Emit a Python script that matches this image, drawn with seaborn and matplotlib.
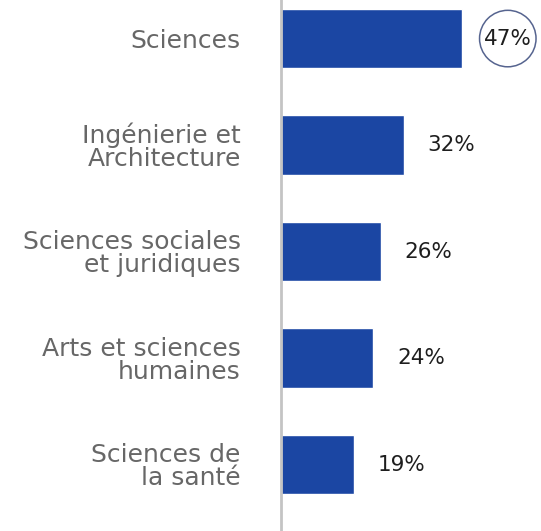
import matplotlib
matplotlib.use("Agg")
import matplotlib.pyplot as plt
import seaborn as sns
import pandas as pd

categories = ["Sciences", "Ingénierie et\nArchitecture", "Sciences sociales\net juridiques",
              "Arts et sciences\nhumaines", "Sciences de\nla santé"]
values = [47, 32, 26, 24, 19]
labels = ["47%", "32%", "26%", "24%", "19%"]

df = pd.DataFrame({"cat": categories, "val": values})

sns.set_theme(style="white")
plt.rcParams["font.family"] = ["DejaVu Sans"]

fig = plt.figure(figsize=(5.41, 5.31), dpi=100)
ax = fig.add_axes([281 / 541, 0, 1 - 281 / 541, 1])

sns.barplot(data=df, x="val", y="cat", orient="h", color="#1b46a3",
            width=0.56, saturation=1, ax=ax)

ax.set_xlim(0, 260 / 3.85)
ax.set_ylim(4.624, -0.362)
ax.set_xlabel("")
ax.set_ylabel("")
ax.set_xticks([])

for s in ["top", "right", "bottom"]:
    ax.spines[s].set_visible(False)
ax.spines["left"].set_color("#c4c4c4")
ax.spines["left"].set_linewidth(2)

ax.tick_params(axis="y", length=0, pad=29, labelsize=18, labelcolor="#676767")
for t in ax.get_yticklabels():
    t.set_horizontalalignment("right")
    t.set_linespacing(0.95)

for i, (v, lab) in enumerate(zip(values, labels)):
    if i == 0:
        ax.annotate(lab, (v, i), xytext=(33, 0), textcoords="offset points",
                    ha="center", va="center", fontsize=15.5, color="#1e1e1e",
                    bbox=dict(boxstyle="circle,pad=0.2", fc="none", ec="#56648f", lw=1.1))
    else:
        ax.annotate(lab, (v, i), xytext=(17, 0), textcoords="offset points",
                    ha="left", va="center", fontsize=15.5, color="#1e1e1e")

fig.savefig("out.png", dpi=100)
